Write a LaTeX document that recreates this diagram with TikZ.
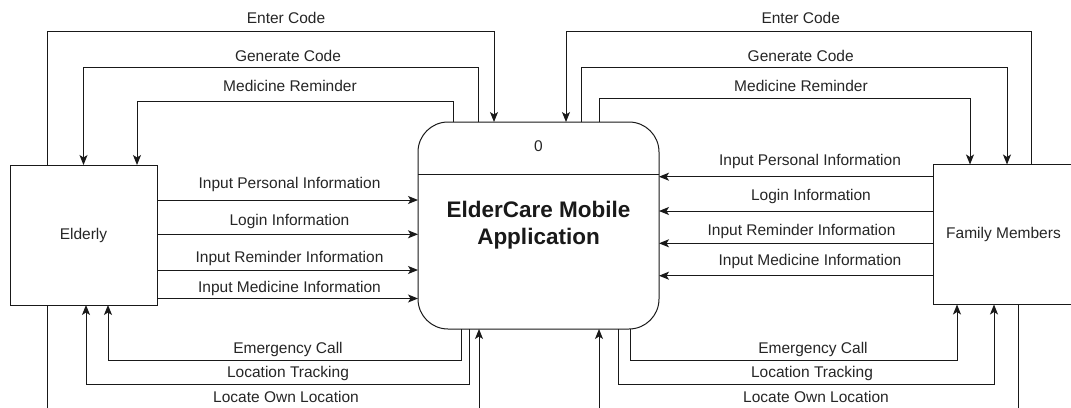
\documentclass[tikz,border=0pt]{standalone}
\usepackage{fontspec}
\setmainfont{Liberation Sans}
\usetikzlibrary{arrows.meta}
\begin{document}
\begin{tikzpicture}[x=1pt,y=-1pt,
  line width=1pt,
  flow/.style={draw=black!90, -{Stealth[length=10pt,width=8pt,inset=2.5pt]}},
  wire/.style={draw=black!90},
  entity/.style={draw=black!90, line width=1pt, minimum width=147pt, minimum height=140pt, inner sep=0pt, outer sep=0pt, font=\fontsize{15.5}{18}\selectfont, text=black!85},
  lbl/.style={inner sep=0pt, text height=11pt, text depth=0pt, font=\fontsize{15.5}{18}\selectfont, text=black!85}]
\useasboundingbox (0,0) rectangle (1071,407);
\clip (0,0) rectangle (1071,407);
\fill[white] (0,0) rectangle (1071,407);

% nodes
\node[entity] (elderly) at (83.5,235) {Elderly};
\node[entity, minimum width=141pt] (family) at (1003.5,234.5) {Family Members};
\node[draw=black!90, rounded corners=30pt, minimum width=241pt, minimum height=207pt, inner sep=0pt, outer sep=0pt] (proc) at (538.5,225.5) {};
\draw[wire] ([yshift=-52pt]proc.north west) -- ([yshift=-52pt]proc.north east);
\node[lbl] (pid) at (538.5,146) {0};
\node[font=\bfseries\fontsize{22.5}{27}\selectfont, align=center, text=black!90] (title) at (538.5,225.5) {ElderCare Mobile\\Application};

% top left
\draw[flow] ([xshift=37pt]elderly.north west) -- ++(0,-134) -| ([xshift=76pt]proc.north west);
\draw[flow] ([xshift=60.5pt]proc.north west) -- ++(0,-54.5) -| ([xshift=73.5pt]elderly.north west);
\draw[flow] ([xshift=35.5pt]proc.north west) -- ++(0,-20.5) -| ([xshift=127pt]elderly.north west);
\node[lbl] (l1) at (286,18) {Enter Code};
\node[lbl] (l2) at (288,55.7) {Generate Code};
\node[lbl] (l3) at (290,86) {Medicine Reminder};

% top right
\draw[flow] ([xshift=98pt]family.north west) -- ++(0,-133.5) -| ([xshift=148pt]proc.north west);
\draw[flow] ([xshift=163.5pt]proc.north west) -- ++(0,-54.5) -| ([xshift=74pt]family.north west);
\draw[flow] ([xshift=181.5pt]proc.north west) -- ++(0,-24) -| ([xshift=37pt]family.north west);
\node[lbl] (r1) at (800.7,18) {Enter Code};
\node[lbl] (r2) at (800.7,55.7) {Generate Code};
\node[lbl] (r3) at (801,86) {Medicine Reminder};

% left horizontals
\draw[flow] ([yshift=-35pt]elderly.north east) coordinate (e1) -- (e1 -| proc.west);
\draw[flow] ([yshift=-69.3pt]elderly.north east) coordinate (e2) -- (e2 -| proc.west);
\draw[flow] ([yshift=-105pt]elderly.north east) coordinate (e3) -- (e3 -| proc.west);
\draw[flow] ([yshift=-133.5pt]elderly.north east) coordinate (e4) -- (e4 -| proc.west);
\node[lbl] (l4) at (289.5,183.3) {Input Personal Information};
\node[lbl] (l5) at (289.5,220) {Login Information};
\node[lbl] (l6) at (289.5,256.7) {Input Reminder Information};
\node[lbl] (l7) at (289.5,286.7) {Input Medicine Information};

% right horizontals
\draw[flow] ([yshift=-12.2pt]family.north west) coordinate (f1) -- (f1 -| proc.east);
\draw[flow] ([yshift=-46.5pt]family.north west) coordinate (f2) -- (f2 -| proc.east);
\draw[flow] ([yshift=-78.8pt]family.north west) coordinate (f3) -- (f3 -| proc.east);
\draw[flow] ([yshift=-111.2pt]family.north west) coordinate (f4) -- (f4 -| proc.east);
\node[lbl] (r4) at (810,160) {Input Personal Information};
\node[lbl] (r5) at (811,195) {Login Information};
\node[lbl] (r6) at (801.5,230) {Input Reminder Information};
\node[lbl] (r7) at (810,260) {Input Medicine Information};

% bottom left
\draw[flow] ([xshift=43pt]proc.south west) -- ++(0,31) -| ([xshift=98pt]elderly.south west);
\draw[flow] ([xshift=51pt]proc.south west) -- ++(0,55) -| ([xshift=76pt]elderly.south west);
\draw[flow] ([xshift=37pt]elderly.south west) -- ++(0,104) -| ([xshift=61pt]proc.south west);
\node[lbl] (l8) at (288,347.7) {Emergency Call};
\node[lbl] (l9) at (288,371.7) {Location Tracking};
\node[lbl] (l10) at (286,396.7) {Locate Own Location};

% bottom right
\draw[flow] ([xshift=212pt]proc.south west) -- ++(0,31) -| ([xshift=24pt]family.south west);
\draw[flow] ([xshift=200pt]proc.south west) -- ++(0,55) -| ([xshift=61pt]family.south west);
\draw[flow] ([xshift=85pt]family.south west) -- ++(0,104.5) -| ([xshift=181pt]proc.south west);
\node[lbl] (r8) at (813,347.7) {Emergency Call};
\node[lbl] (r9) at (812,371.7) {Location Tracking};
\node[lbl] (r10) at (816,396.7) {Locate Own Location};
\end{tikzpicture}
\end{document}
